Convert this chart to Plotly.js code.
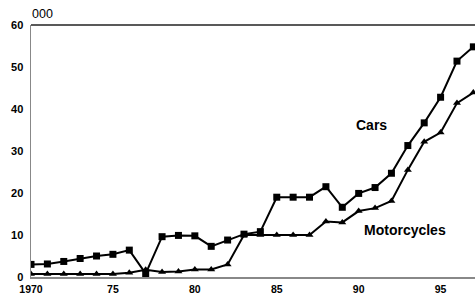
<!DOCTYPE html>
<html><head><meta charset="utf-8">
<script src="https://cdn.plot.ly/plotly-3.0.1.min.js"></script>
<style>html,body{margin:0;padding:0;background:#fff}#c{width:475px;height:300px}</style>
</head><body><div id="c"></div>
<script>
var years = [1970,1971,1972,1973,1974,1975,1976,1977,1978,1979,1980,1981,1982,1983,1984,1985,1986,1987,1988,1989,1990,1991,1992,1993,1994,1995,1996,1997];
var cars = [3.0,3.1,3.7,4.4,5.0,5.4,6.4,0.8,9.6,9.9,9.8,7.3,8.8,10.2,10.8,19.0,19.0,19.0,21.5,16.6,19.9,21.3,24.7,31.3,36.7,42.8,51.4,54.8];
var motorcycles = [0.7,0.7,0.7,0.7,0.7,0.7,1.0,1.7,1.2,1.3,1.8,1.8,3.0,10.0,10.0,10.0,10.0,10.0,13.2,13.0,15.7,16.4,18.1,25.5,32.2,34.4,41.4,43.9];
var xTicks = [1970,1975,1980,1985,1990,1995];
var xTickText = ['1970','75','80','85','90','95'];
var yTicks = [0,10,20,30,40,50,60];

var font = 'Liberation Sans, Arial, sans-serif';
var traces = [
  {x: years, y: cars, mode: 'lines+markers', name: 'Cars',
   line: {color: '#000', width: 2}, marker: {symbol: 'square', size: 7, color: '#000'}},
  {x: years, y: motorcycles, mode: 'lines+markers', name: 'Motorcycles',
   line: {color: '#000', width: 2}, marker: {symbol: 'triangle-up', size: 7, color: '#000'}}
];
var layout = {
  width: 475, height: 300,
  margin: {l: 31, r: 0, t: 25, b: 23},
  paper_bgcolor: '#fff', plot_bgcolor: '#fff',
  showlegend: false,
  font: {family: font, color: '#000'},
  title: {text: '000', x: 42.5/475, xanchor: 'center', xref: 'container',
    y: 1 - 14/300, yanchor: 'middle', yref: 'container',
    font: {size: 12.5, family: font, color: '#000'}},
  xaxis: {range: [1970, 1997.1], tickvals: xTicks, ticktext: xTickText,
    showgrid: false, zeroline: false, showline: true, linecolor: '#888', linewidth: 1.5,
    ticks: '', tickfont: {size: 10.5, weight: 'bold', family: font, color: '#000'}, ticklabelstandoff: 2},
  yaxis: {range: [0, 60], tickvals: yTicks, showgrid: false, zeroline: false,
    showline: true, linecolor: '#888', linewidth: 1.5, ticks: '',
    tickfont: {size: 11, weight: 'bold', family: font, color: '#000'}, ticklabelstandoff: 4},
  shapes: [{type: 'line', xref: 'paper', yref: 'paper', x0: 0, x1: 1, y0: 1, y1: 1,
    line: {color: '#222', width: 1.5}}],
  annotations: [
    {x: 1990.76, y: 36.2, text: 'Cars', showarrow: false, font: {size: 14, weight: 'bold', family: font, color: '#000'}},
    {x: 1992.83, y: 11.2, text: 'Motorcycles', showarrow: false, font: {size: 14, weight: 'bold', family: font, color: '#000'}}
  ]
};
Plotly.newPlot('c', traces, layout, {displayModeBar: false, staticPlot: true});
</script></body></html>
